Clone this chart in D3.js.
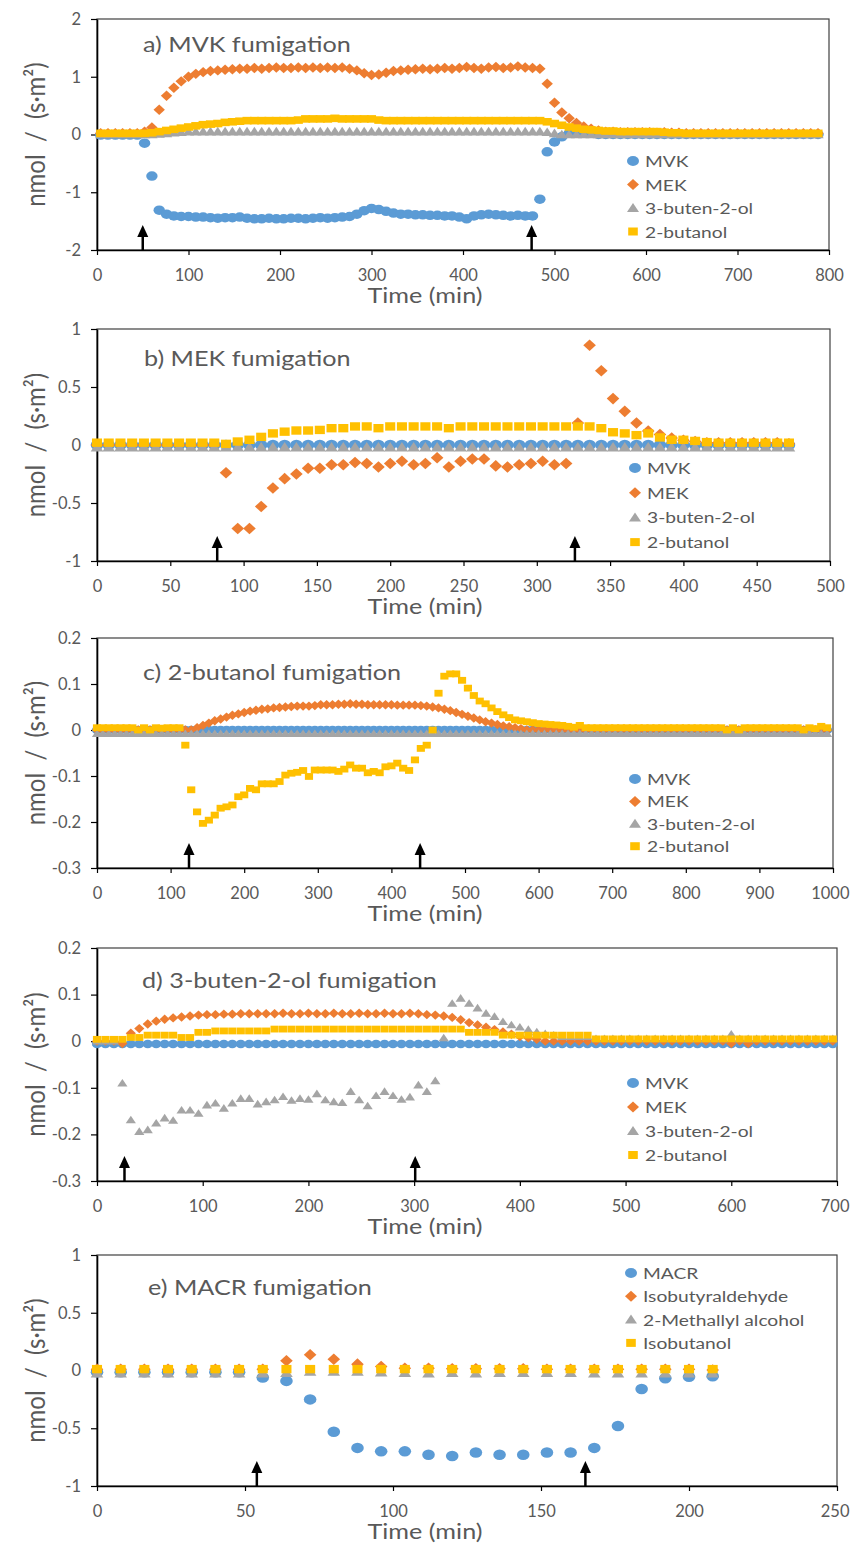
<!DOCTYPE html>
<html><head><meta charset="utf-8">
<script src="https://cdn.jsdelivr.net/npm/d3@7/dist/d3.min.js"></script>
<style>body{margin:0;background:#fff}</style>
</head><body>
<svg id="chart" width="851" height="1547"></svg>
<script>
// ---------------- DATA ----------------
const namesABCD = ['MVK', 'MEK', '3-buten-2-ol', '2-butanol'];
const namesE = ['MACR', 'Isobutyraldehyde', '2-Methallyl alcohol', 'Isobutanol'];

// a) MVK fumigation (sampling every 8 min)
const timesA = d3.range(4, 789, 8);
const mvkA = [
 -0.01,-0.01,-0.01,-0.01,-0.01,-0.01,-0.15,-0.72,-1.31,-1.38,
 -1.41,-1.42,-1.42,-1.43,-1.43,-1.44,-1.45,-1.44,-1.44,-1.43,
 -1.45,-1.46,-1.46,-1.45,-1.46,-1.46,-1.45,-1.45,-1.46,-1.45,
 -1.44,-1.45,-1.44,-1.43,-1.42,-1.38,-1.32,-1.28,-1.30,-1.33,
 -1.36,-1.38,-1.38,-1.39,-1.39,-1.40,-1.40,-1.41,-1.41,-1.43,
 -1.46,-1.41,-1.39,-1.38,-1.39,-1.40,-1.41,-1.40,-1.41,-1.41,
 -1.12,-0.30,-0.13,-0.04,0.02,0.03,0.03,0.02,0.00,0.00,
 0.00,0.00,0.00,0.00,0.00,0.00,0.00,0.00,0.00,0.00,
 0.00,0.00,0.00,0.00,0.00,0.00,0.00,0.00,0.00,0.00,
 0.00,0.00,0.00,0.00,0.00,0.00,0.00,0.00,0.00];
const mekA = [
 0.02,0.02,0.02,0.02,0.02,0.02,0.05,0.12,0.43,0.67,
 0.81,0.92,1.00,1.05,1.08,1.10,1.11,1.12,1.13,1.14,
 1.14,1.15,1.14,1.15,1.16,1.15,1.15,1.16,1.15,1.16,
 1.15,1.16,1.15,1.16,1.14,1.11,1.06,1.03,1.04,1.07,
 1.10,1.11,1.12,1.13,1.14,1.13,1.14,1.15,1.14,1.15,
 1.17,1.15,1.14,1.16,1.17,1.15,1.16,1.18,1.16,1.15,
 1.14,0.88,0.55,0.38,0.28,0.20,0.14,0.10,0.07,0.05,
 0.05,0.04,0.04,0.04,0.04,0.04,0.03,0.04,0.03,0.03,
 0.02,0.02,0.02,0.02,0.02,0.02,0.02,0.02,0.02,0.02,
 0.02,0.02,0.02,0.02,0.02,0.02,0.02,0.02,0.02];
const butenolA = [
 0.00,0.00,0.00,0.00,0.00,0.00,0.00,0.00,0.01,0.02,
 0.03,0.04,0.05,0.05,0.05,0.05,0.05,0.05,0.05,0.05,
 0.05,0.05,0.05,0.05,0.05,0.05,0.05,0.05,0.05,0.05,
 0.05,0.05,0.05,0.05,0.05,0.05,0.05,0.05,0.05,0.05,
 0.05,0.05,0.05,0.05,0.05,0.05,0.05,0.05,0.05,0.05,
 0.05,0.05,0.05,0.05,0.05,0.05,0.05,0.05,0.05,0.05,
 0.05,0.04,0.02,0.00,0.00,0.00,0.00,0.00,0.00,0.00,
 0.00,0.00,0.00,0.00,0.00,0.00,0.00,0.00,0.00,0.00,
 0.00,0.00,0.00,0.00,0.00,0.00,0.00,0.00,0.00,0.00,
 0.00,0.00,0.00,0.00,0.00,0.00,0.00,0.00,0.00];
const butanolA = [
 0.02,0.02,0.02,0.02,0.02,0.02,0.02,0.03,0.05,0.07,
 0.09,0.11,0.13,0.15,0.17,0.18,0.19,0.21,0.22,0.23,
 0.24,0.24,0.24,0.24,0.24,0.24,0.24,0.25,0.27,0.27,
 0.27,0.27,0.28,0.27,0.27,0.27,0.27,0.27,0.25,0.24,
 0.24,0.24,0.24,0.24,0.24,0.24,0.24,0.24,0.24,0.24,
 0.24,0.24,0.24,0.24,0.24,0.24,0.24,0.24,0.24,0.24,
 0.24,0.22,0.19,0.16,0.13,0.11,0.09,0.08,0.07,0.06,
 0.06,0.05,0.05,0.05,0.05,0.05,0.05,0.04,0.03,0.03,
 0.02,0.02,0.02,0.02,0.02,0.02,0.02,0.02,0.02,0.02,
 0.02,0.02,0.02,0.02,0.02,0.02,0.02,0.02,0.02];
const arrowsA = [50, 475];
const xTicksA = [0, 100, 200, 300, 400, 500, 600, 700, 800];
const yTicksA = [-2, -1, 0, 1, 2];

// b) MEK fumigation
const timesB = d3.range(0, 473, 8);
const mvkB = [
 0,0,0,0,0,0,0,0,0,0, 0,0,0,0,0,0,0,0,0,0, 0,0,0,0,0,0,0,0,0,0,
 0,0,0,0,0,0,0,0,0,0, 0,0,0,0,0,0,0,0,0,0, 0,0,0,0,0,0,0,0,0,0];
const mekB = [
 0.00,0.00,0.00,0.00,0.00,0.00,0.00,0.00,0.00,0.00,
 0.00,-0.24,-0.72,-0.72,-0.53,-0.37,-0.29,-0.25,-0.20,-0.20,
 -0.17,-0.17,-0.15,-0.16,-0.19,-0.16,-0.14,-0.17,-0.16,-0.11,
 -0.19,-0.14,-0.12,-0.12,-0.18,-0.19,-0.17,-0.16,-0.14,-0.17,
 -0.16,0.19,0.86,0.64,0.40,0.29,0.19,0.12,0.09,0.06,
 0.04,0.03,0.02,0.02,0.02,0.02,0.02,0.02,0.02,0.01];
const butenolB = [
 -0.02,-0.02,-0.02,-0.02,-0.02,-0.02,-0.02,-0.02,-0.02,-0.02,
 -0.02,-0.02,-0.02,-0.02,-0.02,-0.02,-0.02,-0.02,-0.02,-0.02,
 -0.02,-0.02,-0.02,-0.02,-0.02,-0.02,-0.02,-0.02,-0.02,-0.02,
 -0.02,-0.02,-0.02,-0.02,-0.02,-0.02,-0.02,-0.02,-0.02,-0.02,
 -0.02,-0.02,-0.02,-0.02,-0.02,-0.02,-0.02,-0.02,-0.02,-0.02,
 -0.02,-0.02,-0.02,-0.02,-0.02,-0.02,-0.02,-0.02,-0.02,-0.02];
const butanolB = [
 0.02,0.02,0.02,0.02,0.02,0.02,0.02,0.02,0.02,0.02,
 0.02,0.01,0.03,0.045,0.07,0.10,0.115,0.125,0.125,0.13,
 0.145,0.145,0.16,0.16,0.145,0.16,0.16,0.16,0.16,0.16,
 0.145,0.16,0.16,0.16,0.16,0.16,0.16,0.16,0.16,0.16,
 0.16,0.16,0.16,0.145,0.11,0.10,0.085,0.10,0.065,0.045,
 0.045,0.035,0.025,0.02,0.02,0.02,0.02,0.02,0.02,0.02];
const arrowsB = [82, 326];
const xTicksB = [0, 50, 100, 150, 200, 250, 300, 350, 400, 450, 500];
const yTicksB = [-1, -0.5, 0, 0.5, 1];

// c) 2-butanol fumigation
const timesC = d3.range(0, 993, 8);
const mvkC = timesC.map(() => 0);
const butenolC = timesC.map(() => -0.008);
const mekC = [
 0,0,0,0,0,0,0,0,0,0,
 0,0,0,0,0,0,0,0.005,0.01,0.015,
 0.02,0.024,0.028,0.032,0.035,0.038,0.041,0.043,0.045,0.046,
 0.048,0.049,0.05,0.051,0.052,0.052,0.052,0.053,0.055,0.055,
 0.055,0.056,0.056,0.057,0.056,0.056,0.055,0.055,0.055,0.055,
 0.055,0.054,0.054,0.054,0.054,0.053,0.052,0.05,0.048,0.045,
 0.042,0.038,0.034,0.03,0.026,0.022,0.018,0.015,0.012,0.009,
 0.007,0.005,0.003,0,0,0,0,0,0,0,
 0,0,0,0,0,0,0,0,0,0, 0,0,0,0,0,0,0,0,0,0,
 0,0,0,0,0,0,0,0,0,0, 0,0,0,0,0,0,0,0,0,0,
 0,0,0,0,0];
const butanolC = [
 0.005,0.005,0.005,0.005,0.005,0.005,0.005,0.0,0.005,0.0,
 0.005,0.004,0.005,0.005,0.005,-0.033,-0.13,-0.178,-0.203,-0.196,
 -0.185,-0.17,-0.167,-0.163,-0.145,-0.141,-0.127,-0.13,-0.117,-0.117,
 -0.117,-0.112,-0.098,-0.094,-0.092,-0.088,-0.101,-0.087,-0.087,-0.087,
 -0.087,-0.09,-0.085,-0.076,-0.083,-0.083,-0.093,-0.09,-0.093,-0.08,
 -0.078,-0.072,-0.083,-0.088,-0.065,-0.04,-0.033,0.0,0.08,0.117,
 0.122,0.122,0.108,0.091,0.075,0.063,0.057,0.048,0.04,0.033,
 0.027,0.022,0.02,0.018,0.016,0.014,0.013,0.012,0.011,0.01,
 0.008,0.006,0.01,0.005,0.005,0.005,0.005,0.005,0.005,0.005,
 0.005,0.005,0.005,0.005,0.005,0.005,0.005,0.005,0.005,0.005,
 0.005,0.005,0.005,0.005,0.005,0.005,0.005,0.0,0.005,0.0,
 0.005,0.005,0.005,0.005,0.005,0.005,0.005,0.005,0.005,0.005,
 0.0,0.005,0.003,0.008,0.005];
const arrowsC = [125, 439];
const xTicksC = [0, 100, 200, 300, 400, 500, 600, 700, 800, 900, 1000];
const yTicksC = [-0.3, -0.2, -0.1, 0, 0.1, 0.2];

// d) 3-buten-2-ol fumigation
const timesD = d3.range(0, 697, 8);
const mvkD = timesD.map(() => -0.006);
const mekD = [
 0.0,0.0,0.0,-0.005,0.017,0.027,0.037,0.043,0.047,0.05,
 0.052,0.054,0.056,0.057,0.057,0.058,0.058,0.059,0.059,0.059,
 0.059,0.059,0.06,0.059,0.059,0.06,0.059,0.059,0.06,0.059,
 0.059,0.06,0.059,0.059,0.06,0.059,0.059,0.06,0.059,0.057,
 0.056,0.054,0.051,0.046,0.04,0.035,0.03,0.025,0.02,0.015,
 0.01,0.007,0.004,0,0,0,0,0,0,0,
 0,0,0,0,0,0,0,0,0,0,
 0,0,0,0,0,-0.005,0,-0.005,0,0,
 0,0,0,0,0,0,0,0];
const butenolD = [
 0.0,0.0,0.0,-0.09,-0.169,-0.194,-0.19,-0.176,-0.165,-0.17,
 -0.148,-0.148,-0.155,-0.137,-0.133,-0.144,-0.133,-0.123,-0.123,-0.135,
 -0.13,-0.126,-0.119,-0.127,-0.123,-0.125,-0.113,-0.126,-0.13,-0.132,
 -0.108,-0.126,-0.139,-0.117,-0.108,-0.117,-0.125,-0.12,-0.094,-0.108,
 -0.085,0.007,0.081,0.092,0.081,0.071,0.06,0.053,0.042,0.035,
 0.03,0.025,0.02,0.016,0.013,0.01,0.01,0.01,0.01,0.005,
 0.005,0.005,0.005,0.005,0.005,0.005,0.005,0.005,0.005,0.005,
 0.005,0.005,0.005,0.005,0.005,0.015,0.005,0.005,0.005,0.005,
 0.005,0.005,0.005,0.005,0.005,0.005,0.005,0.005];
const butanolD = [
 0.004,0.004,0.004,0.004,0.008,0.008,0.013,0.013,0.013,0.013,
 0.008,0.008,0.019,0.019,0.022,0.022,0.022,0.022,0.022,0.022,
 0.022,0.026,0.026,0.026,0.026,0.026,0.026,0.026,0.026,0.026,
 0.026,0.026,0.026,0.026,0.026,0.026,0.026,0.026,0.026,0.026,
 0.026,0.026,0.026,0.026,0.019,0.019,0.019,0.019,0.013,0.013,
 0.013,0.013,0.013,0.013,0.013,0.013,0.013,0.013,0.013,0.005,
 0.005,0.005,0.005,0.005,0.005,0.005,0.005,0.005,0.005,0.005,
 0.005,0.005,0.005,0.005,0.005,0.005,0.005,0.005,0.005,0.005,
 0.005,0.005,0.005,0.005,0.005,0.005,0.005,0.005];
const arrowsD = [26, 301];
const xTicksD = [0, 100, 200, 300, 400, 500, 600, 700];
const yTicksD = [-0.3, -0.2, -0.1, 0, 0.1, 0.2];

// e) MACR fumigation
const timesE = d3.range(0, 209, 8);
const macrE = [-0.015,-0.015,-0.015,-0.015,-0.015,-0.015,-0.015,-0.06,-0.09,-0.25,
 -0.53,-0.67,-0.70,-0.70,-0.73,-0.74,-0.71,-0.73,-0.73,-0.71,
 -0.71,-0.67,-0.48,-0.16,-0.067,-0.055,-0.05];
const isobutyraldehydeE = [0.01,0.01,0.01,0.01,0.01,0.01,0.01,0.01,0.084,0.136,
 0.098,0.055,0.035,0.02,0.02,0.015,0.015,0.015,0.015,0.01,
 0.01,0.01,0.01,0.01,0.01,0.01,0.005];
const methallylE = [-0.025,-0.025,-0.025,-0.025,-0.025,-0.025,-0.025,-0.025,-0.02,-0.01,
 -0.01,-0.01,-0.015,-0.02,-0.025,-0.02,-0.025,-0.02,-0.02,-0.02,
 -0.02,-0.025,-0.025,-0.025,-0.025,-0.025,-0.025];
const isobutanolE = [0.012,0.012,0.012,0.012,0.012,0.012,0.012,0.012,0.012,0.012,
 0.012,0.012,0.012,0.012,0.012,0.012,0.012,0.012,0.012,0.012,
 0.012,0.012,0.012,0.012,0.012,0.012,0.012];
const arrowsE = [54, 165];
const xTicksE = [0, 50, 100, 150, 200, 250];
const yTicksE = [-1, -0.5, 0, 0.5, 1];

// ---------------- STYLE / LAYOUT ----------------
const colors = ['#5B9BD5', '#ED7D31', '#A5A5A5', '#FFC000'];
const shapes = ['circle', 'diamond', 'triangle', 'square'];
const FONT = "Lato, 'Open Sans', 'DejaVu Sans', sans-serif";
const SX = 1.2;           // horizontal stretch of the source figure
const TXT = '#595959';

const panels = [
  {title: 'a) MVK fumigation', t: timesA, s: [mvkA, mekA, butenolA, butanolA], names: namesABCD,
   xd: [0, 800], xt: xTicksA, yd: [-2, 2], yt: yTicksA, arrows: arrowsA,
   box: [97, 19, 829, 250], titleXY: [143, 51.5], leg: [633, 161, 23.5], ms: 0.95},
  {title: 'b) MEK fumigation', t: timesB, s: [mvkB, mekB, butenolB, butanolB], names: namesABCD,
   xd: [0, 500], xt: xTicksB, yd: [-1, 1], yt: yTicksB, arrows: arrowsB,
   box: [97, 329, 830, 561], titleXY: [144, 365.5], leg: [635, 468, 24.7], ms: 1.05},
  {title: 'c) 2-butanol fumigation', t: timesC, s: [mvkC, mekC, butenolC, butanolC], names: namesABCD,
   xd: [0, 1000], xt: xTicksC, yd: [-0.3, 0.2], yt: yTicksC, arrows: arrowsC,
   box: [97, 638, 833, 868], titleXY: [143, 679.5], leg: [635, 779, 22.4], ms: 0.85},
  {title: 'd) 3-buten-2-ol fumigation', t: timesD, s: [mvkD, mekD, butenolD, butanolD], names: namesABCD,
   xd: [0, 700], xt: xTicksD, yd: [-0.3, 0.2], yt: yTicksD, arrows: arrowsD,
   box: [97, 948, 837, 1181], titleXY: [142, 987.5], leg: [633, 1083, 24], ms: 0.85},
  {title: 'e) MACR fumigation', t: timesE, s: [macrE, isobutyraldehydeE, methallylE, isobutanolE], names: namesE,
   xd: [0, 250], xt: xTicksE, yd: [-1, 1], yt: yTicksE, arrows: arrowsE,
   box: [97, 1255, 837, 1486], titleXY: [148, 1294.5], leg: [631, 1273, 23.3], ms: 1.05}
];

const shapePath = {
  circle: d3.symbol(d3.symbolCircle, Math.PI * 25)(),
  diamond: 'M0,-5.5L5,0L0,5.5L-5,0Z',
  triangle: 'M0,-5L5,4L-5,4Z',
  square: 'M-4,-4H4V4H-4Z'
};

const svg = d3.select('#chart');
svg.append('rect').attr('width', 851).attr('height', 1547).attr('fill', '#fff');

function txt(g, x, y, s, size, anchor, opts = {}) {
  const t = g.append('text')
    .attr('transform', `translate(${x},${y}) scale(${opts.sx || SX},1)` + (opts.rot ? ` rotate(${opts.rot})` : ''))
    .attr('text-anchor', anchor)
    .attr('font-family', FONT)
    .attr('font-size', size)
    .attr('fill', opts.fill || TXT)
    .text(s);
  if (opts.weight) t.attr('font-weight', opts.weight);
  return t;
}
const fmt = d => String(d);
const TICK_FS = 16.5;

panels.forEach(p => {
  const [x0, y0, x1, y1] = p.box;
  const g = svg.append('g');
  const x = d3.scaleLinear().domain(p.xd).range([x0, x1]);
  const y = d3.scaleLinear().domain(p.yd).range([y1, y0]);

  // frame
  g.append('rect').attr('x', x0).attr('y', y0).attr('width', x1 - x0).attr('height', y1 - y0)
    .attr('fill', 'none').attr('stroke', '#404040').attr('stroke-width', 1.2);

  // axes
  const ax = g.append('g').attr('transform', `translate(0,${y1})`)
    .call(d3.axisBottom(x).tickValues(p.xt).tickFormat(fmt).tickSize(5).tickSizeOuter(0).tickPadding(14));
  const ay = g.append('g').attr('transform', `translate(${x0},0)`)
    .call(d3.axisLeft(y).tickValues(p.yt).tickFormat(fmt).tickSize(6).tickSizeOuter(0).tickPadding(10));
  [ax, ay].forEach(a => {
    a.select('.domain').attr('stroke', '#000').attr('stroke-width', 1.6);
    a.selectAll('.tick line').attr('stroke', '#000').attr('stroke-width', 1.2);
    a.selectAll('.tick text').attr('font-family', FONT).attr('font-size', TICK_FS).attr('fill', TXT);
  });
  // keep the last x label inside the page
  ax.selectAll('.tick text').each(function (d) {
    const w = this.getComputedTextLength();
    if (x(d) + w / 2 > 849) {
      d3.select(this).attr('text-anchor', 'end').attr('x', 849 - x(d));
    }
  });

  // series (first series drawn first, last on top)
  p.s.forEach((vals, i) => {
    g.append('g').selectAll('path').data(vals).join('path')
      .attr('d', shapePath[shapes[i]])
      .attr('fill', colors[i])
      .attr('transform', (v, j) => `translate(${x(p.t[j])},${y(v)}) scale(${SX * p.ms},${p.ms})`);
  });

  // arrows marking start / end of fumigation
  p.arrows.forEach(a => {
    const ax0 = x(a);
    g.append('line').attr('x1', ax0).attr('x2', ax0).attr('y1', y1).attr('y2', y1 - 15)
      .attr('stroke', '#000').attr('stroke-width', 2.5);
    g.append('path').attr('d', `M${ax0},${y1 - 25}L${ax0 + 5.5},${y1 - 13}L${ax0 - 5.5},${y1 - 13}Z`)
      .attr('fill', '#000');
  });

  // legend
  const [lx, ly, ldy] = p.leg;
  p.names.forEach((n, i) => {
    const cy = ly + i * ldy;
    g.append('path').attr('d', shapePath[shapes[i]]).attr('fill', colors[i])
      .attr('transform', `translate(${lx},${cy}) scale(${SX},1)`);
    txt(g, lx + 12, cy + 6, n, 16, 'start');
  });

  // title
  txt(g, p.titleXY[0], p.titleXY[1], p.title, 21, 'start');

  // axis titles
  txt(g, 425, y1 + 53, 'Time (min)', 21, 'middle');
  txt(g, 45, (y0 + y1) / 2, 'nmol\u00A0 /\u00A0 (s\u00B7m\u00B2)', 24, 'middle', {rot: -90, sx: 1.1});
});
</script>
</body></html>
